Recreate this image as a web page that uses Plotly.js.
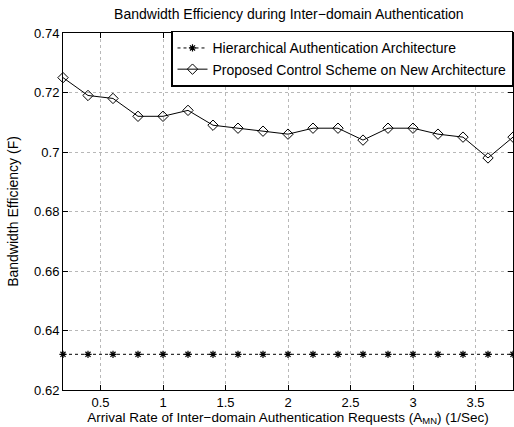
<!DOCTYPE html>
<html>
<head>
<meta charset="utf-8">
<script src="https://cdn.plot.ly/plotly-3.0.1.min.js"></script>
<style>body{margin:0;padding:0;background:#fff;}#chart{width:514px;height:427px;}</style>
</head>
<body>
<div id="chart"></div>
<script>
const arrivalRate = [0.2,0.4,0.6,0.8,1.0,1.2,1.4,1.6,1.8,2.0,2.2,2.4,2.6,2.8,3.0,3.2,3.4,3.6,3.8];
const hierarchical = [0.632,0.632,0.632,0.632,0.632,0.632,0.632,0.632,0.632,0.632,0.632,0.632,0.632,0.632,0.632,0.632,0.632,0.632,0.632];
const proposed = [0.725,0.719,0.718,0.712,0.712,0.714,0.709,0.708,0.707,0.706,0.708,0.708,0.704,0.708,0.708,0.706,0.705,0.698,0.705];
const seriesNames = ["Hierarchical Authentication Architecture","Proposed Control Scheme on New Architecture"];
const xTicks = [0.5,1,1.5,2,2.5,3,3.5];
const yTicks = [0.62,0.64,0.66,0.68,0.70,0.72,0.74];
const yTickText = ["0.62","0.64","0.66","0.68","0.7","0.72","0.74"];

const font = "Liberation Sans, Arial, Helvetica, sans-serif";
const traces = [
  {x: arrivalRate, y: hierarchical, name: seriesNames[0], type: "scatter", mode: "lines+markers",
   line: {color: "black", width: 1, dash: "dot"},
   marker: {symbol: "asterisk-open", size: 6, color: "black", line: {color: "black", width: 1.2}},
   cliponaxis: false},
  {x: arrivalRate, y: proposed, name: seriesNames[1], type: "scatter", mode: "lines+markers",
   line: {color: "black", width: 1},
   marker: {symbol: "diamond-open", size: 8, color: "black", line: {color: "black", width: 1}},
   cliponaxis: false}
];
const axisCommon = {
  showline: true, linecolor: "black", linewidth: 1, mirror: "ticks",
  ticks: "inside", ticklen: 5, tickcolor: "black",
  showgrid: true, gridcolor: "#b8b8b8", griddash: "dot", gridwidth: 1,
  zeroline: false, tickfont: {family: font, size: 13, color: "black"}
};
const layout = {
  width: 514, height: 427,
  margin: {l: 63, r: 1, t: 33, b: 37},
  paper_bgcolor: "white", plot_bgcolor: "white",
  title: {text: "Bandwidth Efficiency during Inter−domain Authentication",
          font: {family: font, size: 14, color: "black"}, x: 0.562, xanchor: "center", y: 0.966, yanchor: "middle"},
  xaxis: Object.assign({}, axisCommon, {range: [0.2, 3.8], tickvals: xTicks, ticktext: xTicks.map(String),
    title: {text: "Arrival Rate of Inter−domain Authentication Requests (A<sub>MN</sub>) (1/Sec)",
            font: {family: font, size: 13.5, color: "black"}, standoff: 2}}),
  yaxis: Object.assign({}, axisCommon, {range: [0.62, 0.74], tickvals: yTicks, ticktext: yTickText,
    title: {text: "Bandwidth Efficiency (F)", font: {family: font, size: 14, color: "black"}, standoff: 12}}),
  showlegend: true,
  legend: {x: 1, xanchor: "right", y: 1.006, yanchor: "top", bgcolor: "white", bordercolor: "black", borderwidth: 1.5,
           font: {family: font, size: 14, color: "black"}, tracegroupgap: 0, itemwidth: 30}
};
Plotly.newPlot("chart", traces, layout, {displayModeBar: false, staticPlot: true});
</script>
</body>
</html>
